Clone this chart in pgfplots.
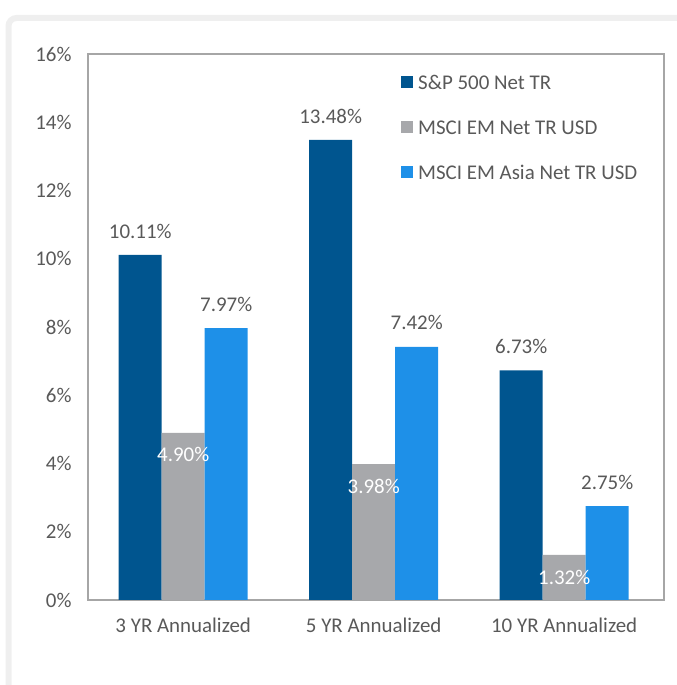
\documentclass[border=0pt]{standalone}
\usepackage{pgfplots}
\pgfplotsset{compat=1.18}
\usepackage{fontspec}
\setmainfont{Carlito}
\definecolor{darkblue}{HTML}{00558F}
\definecolor{midgray}{HTML}{A7A8AB}
\definecolor{lightblue}{HTML}{1E90E8}
\definecolor{textgray}{HTML}{595959}
\definecolor{axisgray}{HTML}{A6A6A6}
\definecolor{framegray}{HTML}{EFEFEF}
\begin{document}
\begin{tikzpicture}
\path[use as bounding box] (0,0) rectangle (677bp,685bp);
\begin{scope}
\clip (0,0) rectangle (677bp,685bp);
\draw[framegray, line width=6bp, rounded corners=8bp] (720bp,667bp) -- (8.5bp,667bp) -- (8.5bp,-40bp);
\end{scope}
\begin{axis}[
  at={(88bp,85bp)}, anchor=south west,
  scale only axis, width=576bp, height=546bp,
  xmin=-0.5, xmax=2.524, ymin=0, ymax=16,
  ybar=0pt, bar width=43bp,
  xtick={0,1,2},
  xticklabels={3 YR Annualized, 5 YR Annualized, 10 YR Annualized},
  ytick={0,2,...,16},
  yticklabel={\pgfmathprintnumber{\tick}\%},
  /pgf/number format/assume math mode=true,
  major tick length=0pt,
  axis line style={draw=axisgray, line width=1.5bp},
  tick label style={font=\fontsize{21}{25}\selectfont, text=textgray},
  xticklabel style={yshift=-14bp},
  yticklabel style={xshift=-13bp},
  legend image code/.code={\fill[#1] (0bp,-6bp) rectangle (12bp,6bp);},
  legend cell align=left,
  legend style={draw=none, fill=none, inner sep=0pt,
    at={(0.5434,0.9615)}, anchor=north west,
    font=\fontsize{21}{25}\selectfont, text=textgray,
    row sep=31bp,
    nodes={inner sep=0pt, text height=14bp, text depth=0bp},
    /tikz/every odd column/.style={column sep=5bp}},
  nodes near coords={\pgfmathprintnumber[fixed,fixed zerofill,precision=2]{\pgfplotspointmeta}\%},
]
\addplot[fill=darkblue, draw=none,
  every node near coord/.append style={font=\fontsize{21}{25}\selectfont, text=textgray, anchor=center, yshift=24bp}]
  coordinates {(0,10.11) (1,13.48) (2,6.73)};
\addplot[fill=midgray, draw=none,
  every node near coord/.append style={font=\fontsize{21}{25}\selectfont, text=white, anchor=center, yshift=-22bp}]
  coordinates {(0,4.90) (1,3.98) (2,1.32)};
\addplot[fill=lightblue, draw=none,
  every node near coord/.append style={font=\fontsize{21}{25}\selectfont, text=textgray, anchor=center, yshift=24bp}]
  coordinates {(0,7.97) (1,7.42) (2,2.75)};
\legend{S\&P 500 Net TR, MSCI EM Net TR USD, MSCI EM Asia Net TR USD}
\end{axis}
\end{tikzpicture}
\end{document}
